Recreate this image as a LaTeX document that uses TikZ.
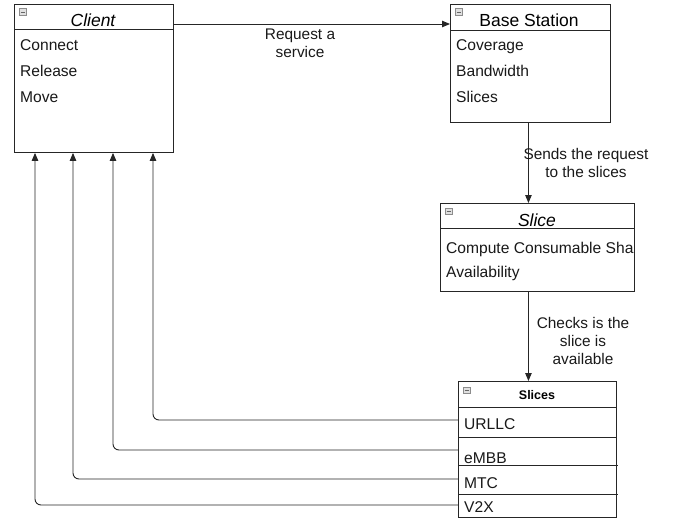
\documentclass[tikz,border=0pt]{standalone}
\usepackage{fontspec}
\setmainfont{Liberation Sans}
\usetikzlibrary{arrows.meta}
\begin{document}
\begin{tikzpicture}[x=1pt,y=-1pt,
  box/.style={draw=black!85, line width=0.9pt, fill=white, inner sep=0pt, anchor=north west},
  sep/.style={draw=black!85, line width=0.9pt},
  item/.style={anchor=base west, inner sep=0pt, text=black!90, font=\fontsize{15.6}{18}\selectfont},
  title/.style={anchor=base, inner sep=0pt, text=black, font=\fontsize{17.5}{20}\selectfont},
  lbl/.style={inner sep=0pt, align=center, text=black!90, font=\fontsize{15.4}{18}\selectfont},
  conn/.style={draw=black!85, line width=0.9pt, -{Triangle[length=8pt,width=6.5pt]}},
  icon/.style={draw=black!45, fill=black!12, line width=0.5pt, minimum size=6.5pt, inner sep=0pt}
]
\useasboundingbox (0,0) rectangle (677,519);

% Client class
\node[box, minimum width=159pt, minimum height=148pt] (client) at (14,4) {};
\draw[sep] (14,29) -- (173,29);
\node[title, font=\fontsize{17.5}{20}\selectfont\itshape] (clientt) at (93,27) {Client};
\node[icon] (ic1) at (22.5,12) {};
\draw[black!60, line width=0.6pt] ([xshift=-2pt]ic1.center) -- ([xshift=2pt]ic1.center);
\node[item] (connect) at (20,51) {Connect};
\node[item] (release) at (20,77) {Release};
\node[item] (move) at (20,102) {Move};

% Base Station class
\node[box, minimum width=160pt, minimum height=118pt] (base) at (450,4) {};
\draw[sep] (450,30) -- (610,30);
\node[title] (baset) at (529,27) {Base Station};
\node[icon] (ic2) at (458.5,12) {};
\draw[black!60, line width=0.6pt] ([xshift=-2pt]ic2.center) -- ([xshift=2pt]ic2.center);
\node[item] (coverage) at (456,51) {Coverage};
\node[item] (bandwidth) at (456,77) {Bandwidth};
\node[item] (slicesattr) at (456,102) {Slices};

% Slice class
\node[box, minimum width=194pt, minimum height=88pt] (slice) at (440,203) {};
\draw[sep] (440,228) -- (634,228);
\node[title, font=\fontsize{17.5}{20}\selectfont\itshape] (slicet) at (537,226) {Slice};
\node[icon] (ic3) at (448.5,211) {};
\draw[black!60, line width=0.6pt] ([xshift=-2pt]ic3.center) -- ([xshift=2pt]ic3.center);
\begin{scope}
  \clip (440,228) rectangle (633,291);
  \node[item] (compute) at (446,253) {Compute Consumable Share};
\end{scope}
\node[item] (avail) at (446,277) {Availability};

% Slices enumeration
\node[box, minimum width=158pt, minimum height=136pt] (slices) at (458,381) {};
\draw[sep] (458,407) -- (616,407);
\draw[sep] (458,437) -- (616,437);
\draw[sep] (458,465) -- (618,465);
\draw[sep] (458,494) -- (618,494);
\node[anchor=base, inner sep=0pt, font=\fontsize{12.5}{15}\selectfont\bfseries] (slicest) at (537,399) {Slices};
\node[icon] (ic4) at (466.5,390) {};
\draw[black!60, line width=0.6pt] ([xshift=-2pt]ic4.center) -- ([xshift=2pt]ic4.center);
\node[item] (urllc) at (464,429) {URLLC};
\node[item] (embb) at (464,463) {eMBB};
\node[item] (mtc) at (464,488) {MTC};
\node[item] (v2x) at (464,512) {V2X};

% Row ports on the left side of the enumeration
\coordinate (p1) at (458,420);
\coordinate (p2) at (458,450);
\coordinate (p3) at (458,479);
\coordinate (p4) at (458,505);

% Connectors
\draw[conn] ([yshift=-20pt]client.north east) -- ([yshift=-20pt]base.north west);
\node[lbl] (req) at (300,43) {Request a\\service};

\draw[conn] ([xshift=-2pt]base.south) -- ([xshift=-2pt]base.south |- slice.north);
\node[lbl] (sends) at (586,163) {Sends the request\\to the slices};

\draw[conn] ([xshift=-9pt]slice.south) -- ([xshift=-9pt]slice.south |- slices.north);
\node[lbl] (checks) at (583,341) {Checks is the\\slice is\\available};

\draw[conn, rounded corners=6pt] (p1) -| ([xshift=139pt]client.south west);
\draw[conn, rounded corners=6pt] (p2) -| ([xshift=99pt]client.south west);
\draw[conn, rounded corners=6pt] (p3) -| ([xshift=59pt]client.south west);
\draw[conn, rounded corners=6pt] (p4) -| ([xshift=21pt]client.south west);
\end{tikzpicture}
\end{document}
